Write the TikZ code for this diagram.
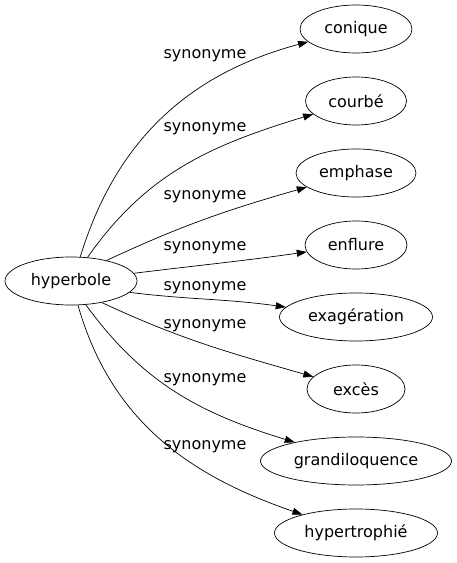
\documentclass[tikz,border=0pt]{standalone}
\usepackage{fontspec}
\setmainfont{DejaVu Sans}
\usetikzlibrary{shapes.geometric,arrows.meta}
\begin{document}
\begin{tikzpicture}[x=1pt, y=1pt, >={Triangle[length=10pt,width=7pt]}, line width=0.7pt,
	every node/.style={font=\fontsize{16}{19}\selectfont}]
	\tikzset{word/.style={ellipse, draw, minimum height=48pt, inner sep=0pt}}
	\useasboundingbox (0,0) rectangle (456,563);
	
	% Source word
	\node[word, minimum width=132pt] (hyperbole) at (71,282) {hyperbole};
	
	% Synonyms
	\foreach \n/\t/\y/\w in {conique/conique/534/112, courbe/courbé/462/101, emphase/emphase/390/120,
		enflure/enflure/318/102, exageration/exagération/246/153, exces/excès/174/98,
		grandiloquence/grandiloquence/102/191, hypertrophie/hypertrophié/30/163}
	\node[word, minimum width=\w pt] (\n) at (356,\y) {\t};
	
	% Connections hyperbole -> synonyms
	\foreach \n/\a/\o/\i in {conique/69/73/195, courbe/55/55/197, emphase/30/25/196, enflure/7/7/188,
		exageration/349/-7/172, exces/325/-25/164, grandiloquence/302/-54/163, hypertrophie/286/-74/161}
	\draw[->] (hyperbole.\a) to[out=\o, in=\i] (\n);
	
	% Labels
	\foreach \k/\y in {1/507, 2/434, 3/366, 4/315, 5/275, 6/237, 7/183, 8/116}
	\node (syn\k) at (205,\y) {synonyme};
	
\end{tikzpicture}
\end{document}
